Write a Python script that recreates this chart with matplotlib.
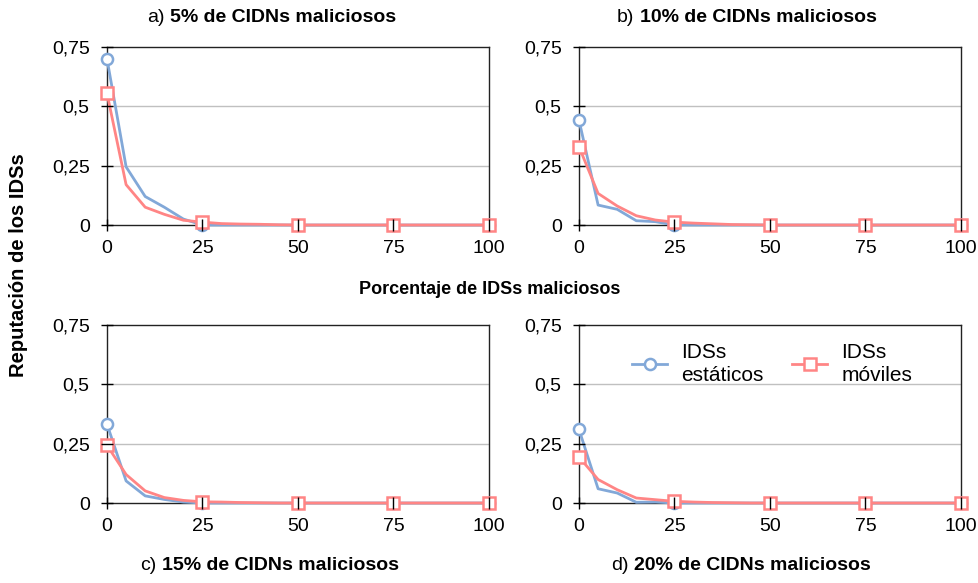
import matplotlib
matplotlib.use("Agg")
import matplotlib.pyplot as plt

plt.rcParams['font.family'] = ['Liberation Sans', 'DejaVu Sans']

# Percentage of malicious IDSs (x axis)
pct_ids = [0, 5, 10, 15, 20, 25, 30, 35, 40, 45, 50, 55, 60, 65, 70, 75, 80, 85, 90, 95, 100]

# Reputation of static IDSs per scenario
static_5 = [0.70, 0.245, 0.12, 0.075, 0.025, 0.0, 0, 0, 0, 0, 0, 0, 0, 0, 0, 0, 0, 0, 0, 0, 0]
static_10 = [0.442, 0.084, 0.066, 0.018, 0.014, 0.0, 0, 0, 0, 0, 0, 0, 0, 0, 0, 0, 0, 0, 0, 0, 0]
static_15 = [0.332, 0.093, 0.030, 0.015, 0.004, 0.0, 0, 0, 0, 0, 0, 0, 0, 0, 0, 0, 0, 0, 0, 0, 0]
static_20 = [0.31, 0.06, 0.042, 0.003, 0.004, 0.0, 0, 0, 0, 0, 0, 0, 0, 0, 0, 0, 0, 0, 0, 0, 0]

# Reputation of mobile IDSs per scenario
mobile_5 = [0.555, 0.17, 0.075, 0.045, 0.02, 0.012, 0.006, 0.004, 0.003, 0.001, 0, 0, 0, 0, 0, 0, 0, 0, 0, 0, 0]
mobile_10 = [0.33, 0.133, 0.08, 0.039, 0.021, 0.012, 0.008, 0.005, 0.002, 0.001, 0, 0, 0, 0, 0, 0, 0, 0, 0, 0, 0]
mobile_15 = [0.243, 0.12, 0.051, 0.023, 0.011, 0.005, 0.004, 0.002, 0.001, 0, 0, 0, 0, 0, 0, 0, 0, 0, 0, 0, 0]
mobile_20 = [0.194, 0.099, 0.056, 0.021, 0.014, 0.007, 0.004, 0.002, 0.001, 0, 0, 0, 0, 0, 0, 0, 0, 0, 0, 0, 0]

panel_prefix = ["a)", "b)", "c)", "d)"]
panel_title = ["5% de CIDNs maliciosos", "10% de CIDNs maliciosos",
               "15% de CIDNs maliciosos", "20% de CIDNs maliciosos"]

x_ticks = [0, 25, 50, 75, 100]
x_tick_labels = ["0", "25", "50", "75", "100"]
y_ticks = [0, 0.25, 0.5, 0.75]
y_tick_labels = ["0", "0,25", "0,5", "0,75"]

series_labels = ["IDSs\nestáticos", "IDSs\nmóviles"]
x_label = "Porcentaje de IDSs maliciosos"
y_label = "Reputación de los IDSs"

BLUE = "#82A8D8"
RED = "#FF8585"
FS = 14

W, H = 979, 583
fig = plt.figure(figsize=(W / 100, H / 100), dpi=100)

def px_axes(left, top, right, bottom):
    return fig.add_axes([left / W, 1 - bottom / H, (right - left) / W, (bottom - top) / H])

axes = [
    px_axes(107, 47, 489, 225),
    px_axes(579, 47, 961, 225),
    px_axes(107, 325, 489, 503),
    px_axes(579, 325, 961, 503),
]

static_all = [static_5, static_10, static_15, static_20]
mobile_all = [mobile_5, mobile_10, mobile_15, mobile_20]

for ax, s, m in zip(axes, static_all, mobile_all):
    for yv in (0.25, 0.5):
        ax.axhline(yv, color="#c0c0c0", lw=1.0, zorder=0.5)
    ax.plot(pct_ids, s, color=BLUE, lw=2.0, marker="o", markevery=5, ms=8,
            mfc="white", mec=BLUE, mew=1.8, clip_on=False, zorder=2,
            label=series_labels[0])
    ax.plot(pct_ids, m, color=RED, lw=2.0, marker="s", markevery=5, ms=8,
            mfc="white", mec=RED, mew=1.8, clip_on=False, zorder=2.1,
            label=series_labels[1])
    ax.set_xlim(0, 100)
    ax.set_ylim(0, 0.75)
    ax.set_xticks(x_ticks)
    ax.set_xticklabels(x_tick_labels, fontsize=FS)
    ax.set_yticks(y_ticks)
    ax.set_yticklabels(y_tick_labels, fontsize=FS)
    ax.tick_params(direction="inout", length=9, width=1.0, color="black")
    ax.tick_params(axis="y", pad=8)
    ax.tick_params(axis="x", pad=6)
    ax.set_axisbelow(False)
    for sp in ax.spines.values():
        sp.set_color("#222222")
        sp.set_linewidth(1.0)
        sp.set_zorder(1)

# Titles: regular prefix followed by a bold description
title_pos = [(147, 18), (617, 18), (140, 566), (611, 566)]
for (px, py), pre, txt in zip(title_pos, panel_prefix, panel_title):
    t = fig.text(px / W, 1 - py / H, pre, fontsize=FS, va="center", ha="left")
    fig.add_artist(plt.matplotlib.text.Annotation(
        txt, xy=(1, 0), xycoords=t, xytext=(4, 0), textcoords="offset points",
        fontsize=FS, fontweight="bold", va="bottom", ha="left",
        annotation_clip=False))

fig.text(490 / W, 1 - 290 / H, x_label, fontsize=FS - 1, fontweight="bold",
         ha="center", va="center")
fig.text(19 / W, 1 - 265 / H, y_label, fontsize=14.5, fontweight="bold",
         ha="center", va="center", rotation=90)

handles, labels = axes[3].get_legend_handles_labels()
leg = fig.legend(handles, labels, loc="center left",
                 bbox_to_anchor=(632 / W, 1 - 364 / H),
                 ncol=2, frameon=False, fontsize=15, handlelength=1.7,
                 columnspacing=1.35, handletextpad=0.67, borderpad=0,
                 borderaxespad=0)
for t in leg.get_texts():
    t.set_linespacing(1.3)

fig.savefig("out.png", dpi=100)
